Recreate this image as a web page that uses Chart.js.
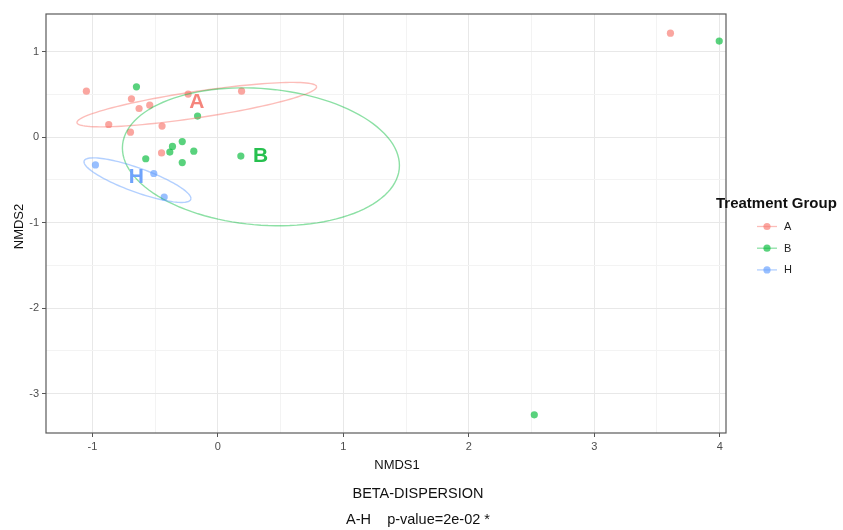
<!DOCTYPE html>
<html>
<head>
<meta charset="utf-8">
<title>Beta dispersion NMDS</title>
<script src="https://cdn.jsdelivr.net/npm/chart.js@4"></script>
<style>
  body { margin: 0; background: #fff; }
  #wrap { width: 843px; height: 530px; }
</style>
</head>
<body>
<div id="wrap"><canvas id="nmdsChart" width="843" height="530"></canvas></div>
<script>
// groups and their colours
const groups = ['A', 'B', 'H'];
const pointColors = ['rgba(248,118,109,0.65)', 'rgba(0,186,56,0.65)', 'rgba(97,156,255,0.65)'];
const lineColors = ['rgba(248,118,109,0.48)', 'rgba(0,186,56,0.45)', 'rgba(97,156,255,0.48)'];
const labelColors = ['#f5857c', '#27c04f', '#6fa3fb'];

// NMDS scores
const aX = [-1.048, -0.689, -0.628, -0.543, -0.237, 0.189, -0.870, -0.697, -0.445, -0.449, 3.607];
const aY = [0.538, 0.448, 0.335, 0.374, 0.503, 0.538, 0.148, 0.058, 0.129, -0.185, 1.216];
const bX = [-0.649, -0.162, -0.284, -0.362, -0.383, -0.192, -0.284, -0.575, 0.183, 3.996, 2.522];
const bY = [0.588, 0.246, -0.052, -0.109, -0.175, -0.164, -0.298, -0.253, -0.222, 1.123, -3.248];
const hX = [-0.976, -0.511, -0.428];
const hY = [-0.325, -0.425, -0.700];

// confidence ellipses: centre + cos(t)*u + sin(t)*v (data units)
const ellipseCenter = [[-0.168, 0.380], [0.343, -0.230], [-0.641, -0.503]];
const ellipseU = [[0.955, 0.208], [1.104, -0.102], [0.426, -0.214]];
const ellipseV = [[0, -0.156], [0, -0.800], [0, -0.149]];

// group letters placed at the centroids
const labelX = [-0.168, 0.341, -0.649];
const labelY = [0.410, -0.224, -0.466];

// axis ticks (majors get labels, halves are minor grid lines)
const xTicks = [-1, -0.5, 0, 0.5, 1, 1.5, 2, 2.5, 3, 3.5, 4];
const yTicks = [-3, -2.5, -2, -1.5, -1, -0.5, 0, 0.5, 1];

const xTitle = 'NMDS1';
const yTitle = 'NMDS2';
const legendTitle = 'Treatment Group';
const captionLines = ['BETA-DISPERSION', 'A-H    p-value=2e-02 *'];

const FONT = "'Liberation Sans', Arial, sans-serif";

function toPoints(xs, ys) {
    return xs.map((x, i) => ({ x: x, y: ys[i] }));
}

const seriesX = [aX, bX, hX];
const seriesY = [aY, bY, hY];

const datasets = groups.map((g, i) => ({
    label: g,
    data: toPoints(seriesX[i], seriesY[i]),
    pointRadius: 3.6,
    pointHoverRadius: 3.6,
    pointBorderWidth: 0,
    pointBackgroundColor: pointColors[i],
    showLine: false
}));

const isMajor = v => Math.abs(v - Math.round(v)) < 1e-9;

const extrasPlugin = {
    id: 'extras',
    afterDatasetsDraw(chart) {
        const ctx = chart.ctx;
        const xs = chart.scales.x;
        const ys = chart.scales.y;
        const area = chart.chartArea;

        // ellipses
        ctx.save();
        ctx.beginPath();
        ctx.rect(area.left, area.top, area.right - area.left, area.bottom - area.top);
        ctx.clip();
        ctx.lineWidth = 1.4;
        groups.forEach((g, i) => {
            const c = ellipseCenter[i], u = ellipseU[i], v = ellipseV[i];
            ctx.beginPath();
            for (let k = 0; k <= 120; k++) {
                const t = (k / 120) * Math.PI * 2;
                const px = xs.getPixelForValue(c[0] + u[0] * Math.cos(t) + v[0] * Math.sin(t));
                const py = ys.getPixelForValue(c[1] + u[1] * Math.cos(t) + v[1] * Math.sin(t));
                if (k === 0) ctx.moveTo(px, py); else ctx.lineTo(px, py);
            }
            ctx.strokeStyle = lineColors[i];
            ctx.stroke();
        });

        // group letters
        ctx.font = 'bold 21px ' + FONT;
        ctx.textAlign = 'center';
        ctx.textBaseline = 'middle';
        groups.forEach((g, i) => {
            ctx.fillStyle = labelColors[i];
            ctx.fillText(g, xs.getPixelForValue(labelX[i]), ys.getPixelForValue(labelY[i]));
        });
        ctx.restore();

        // panel border
        ctx.save();
        ctx.strokeStyle = '#5a5a5a';
        ctx.lineWidth = 1.2;
        ctx.strokeRect(area.left, area.top, area.right - area.left, area.bottom - area.top);
        ctx.restore();
    },
    afterDraw(chart) {
        const ctx = chart.ctx;
        const area = chart.chartArea;
        ctx.save();
        ctx.fillStyle = '#111';
        ctx.textBaseline = 'middle';
        ctx.textAlign = 'center';

        // axis titles
        ctx.font = '13px ' + FONT;
        ctx.fillText(xTitle, 397, area.bottom + 32);
        ctx.save();
        ctx.translate(19, (area.top + area.bottom) / 2 + 3);
        ctx.rotate(-Math.PI / 2);
        ctx.fillText(yTitle, 0, 0);
        ctx.restore();

        // caption below
        ctx.font = '14.5px ' + FONT;
        ctx.fillText(captionLines[0], 418, area.bottom + 61);
        ctx.fillText(captionLines[1], 418, area.bottom + 87);

        // legend
        ctx.textAlign = 'left';
        ctx.font = 'bold 15px ' + FONT;
        ctx.fillStyle = '#111';
        ctx.fillText(legendTitle, area.right - 10, 204);
        ctx.font = '11px ' + FONT;
        groups.forEach((g, i) => {
            const y = 226.5 + i * 21.7;
            ctx.strokeStyle = lineColors[i];
            ctx.lineWidth = 1.3;
            ctx.beginPath();
            ctx.moveTo(757, y);
            ctx.lineTo(777, y);
            ctx.stroke();
            ctx.fillStyle = pointColors[i];
            ctx.beginPath();
            ctx.arc(767, y, 3.6, 0, Math.PI * 2);
            ctx.fill();
            ctx.fillStyle = '#222';
            ctx.fillText(g, 784, y + 0.5);
        });
        ctx.restore();
    }
};

function gridColor(ctx) {
    const v = ctx.tick ? ctx.tick.value : 0;
    return isMajor(v) ? '#e8e8e8' : '#f3f3f3';
}

function tickMarkColor(ctx) {
    const v = ctx.tick ? ctx.tick.value : 0;
    return isMajor(v) ? '#555' : 'rgba(0,0,0,0)';
}

new Chart(document.getElementById('nmdsChart'), {
    type: 'scatter',
    data: { datasets: datasets },
    plugins: [extrasPlugin],
    options: {
        responsive: false,
        animation: false,
        devicePixelRatio: 1,
        layout: { padding: { left: 0, top: 14, right: 117, bottom: 0 } },
        plugins: {
            legend: { display: false },
            tooltip: { enabled: false },
            title: { display: false }
        },
        scales: {
            x: {
                type: 'linear',
                min: -1.37,
                max: 4.05,
                afterFit: s => { s.height = 97; },
                afterBuildTicks: s => { s.ticks = xTicks.map(v => ({ value: v })); },
                grid: { color: gridColor, tickColor: tickMarkColor, tickLength: 4, lineWidth: 1 },
                border: { display: false },
                ticks: {
                    color: '#4d4d4d',
                    font: { family: FONT, size: 11 },
                    padding: 3,
                    maxRotation: 0,
                    autoSkip: false,
                    callback: v => isMajor(v) ? String(v) : ''
                }
            },
            y: {
                type: 'linear',
                min: -3.46,
                max: 1.44,
                afterFit: s => { s.width = 46; },
                afterBuildTicks: s => { s.ticks = yTicks.map(v => ({ value: v })); },
                grid: { color: gridColor, tickColor: tickMarkColor, tickLength: 4, lineWidth: 1 },
                border: { display: false },
                ticks: {
                    color: '#4d4d4d',
                    font: { family: FONT, size: 11 },
                    padding: 3,
                    autoSkip: false,
                    callback: v => isMajor(v) ? String(v) : ''
                }
            }
        }
    }
});
</script>
</body>
</html>
